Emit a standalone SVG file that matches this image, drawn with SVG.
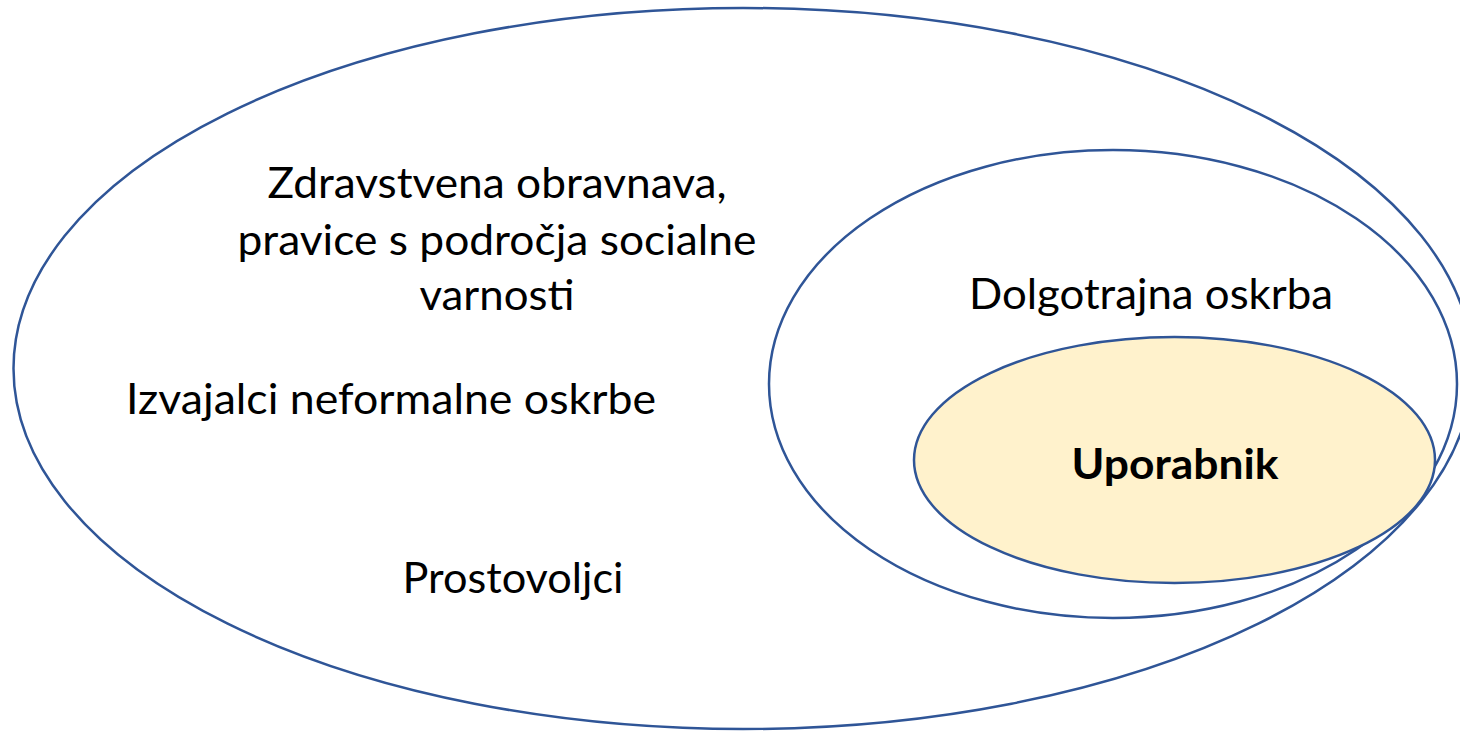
<svg xmlns="http://www.w3.org/2000/svg" width="1460" height="731" viewBox="0 0 1460 731">
<style>
.e{fill:none;stroke:#2F5597;stroke-width:2.5}
.t{font-family:Lato,"Liberation Sans",sans-serif;font-size:42px;fill:#000;text-anchor:middle}
.b{font-weight:bold}
</style>
<rect width="1460" height="731" fill="#fff"/>
<g id="outer">
<ellipse class="e" cx="743" cy="368.5" rx="729.5" ry="360.5"/>
<text class="t" x="497" y="198" textLength="459" lengthAdjust="spacingAndGlyphs">Zdravstvena obravnava,</text>
<text class="t" x="497" y="255" textLength="519" lengthAdjust="spacingAndGlyphs">pravice s področja socialne</text>
<text class="t" x="497" y="310" textLength="155" lengthAdjust="spacingAndGlyphs">varnosti</text>
<text class="t" x="391" y="414" textLength="530" lengthAdjust="spacingAndGlyphs">Izvajalci neformalne oskrbe</text>
<text class="t" x="513" y="593" textLength="221" lengthAdjust="spacingAndGlyphs">Prostovoljci</text>
</g>
<g id="middle">
<ellipse class="e" cx="1113" cy="384" rx="344" ry="234"/>
<text class="t" x="1151" y="309" textLength="364" lengthAdjust="spacingAndGlyphs">Dolgotrajna oskrba</text>
</g>
<g id="inner">
<ellipse class="e" cx="1174.5" cy="460" rx="260.5" ry="123" style="fill:#FFF2CC"/>
<text class="t b" x="1175" y="479" textLength="207" lengthAdjust="spacingAndGlyphs">Uporabnik</text>
</g>
<g id="connectors"></g>
</svg>
